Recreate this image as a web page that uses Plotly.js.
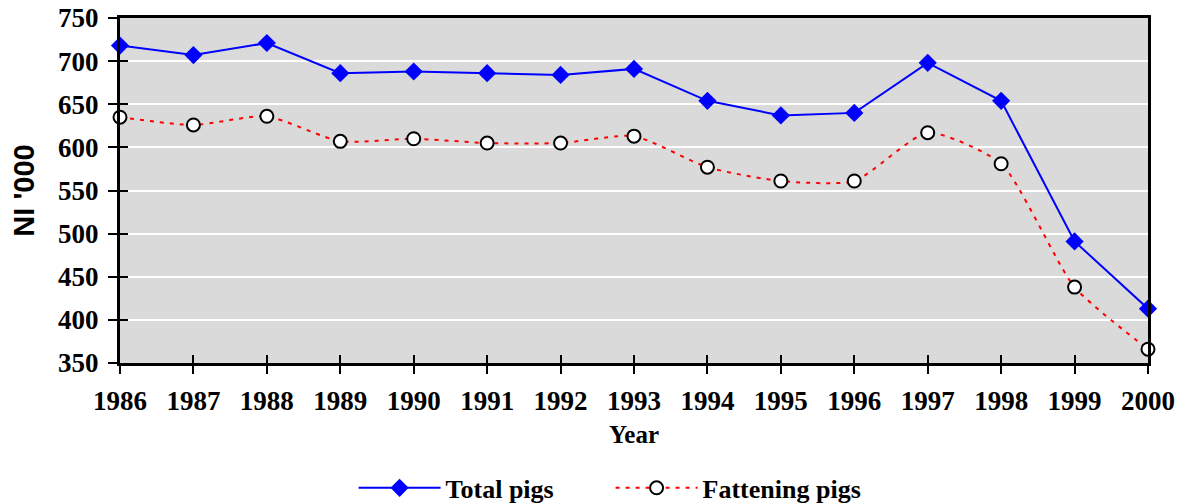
<!DOCTYPE html>
<html>
<head>
<meta charset="utf-8">
<script src="https://cdn.plot.ly/plotly-3.0.1.min.js"></script>
<style>html,body{margin:0;padding:0;background:#fff;}#chart{width:1181px;height:503px;}</style>
</head>
<body>
<div id="chart"></div>
<script>
const years = [1986,1987,1988,1989,1990,1991,1992,1993,1994,1995,1996,1997,1998,1999,2000];
const totalPigs = [718,707,721,686,688,686,684,691,654,637,640,698,654,491,413];
const fatteningPigs = [635,626,636,607,610,605,605,613,577,561,561,617,581,438,366];
const yTicks = [350,400,450,500,550,600,650,700,750];

const serif = 'Liberation Serif, Times New Roman, serif';
const tickFont = {family: serif, size: 27, color: '#000', weight: 'bold'};

const traces = [
  {
    x: years, y: totalPigs, name: 'Total pigs', type: 'scatter', mode: 'lines+markers',
    line: {color: '#0000ff', width: 2},
    marker: {symbol: 'diamond', size: 14, color: '#0000ff'},
    cliponaxis: false
  },
  {
    x: years, y: fatteningPigs, name: 'Fattening pigs', type: 'scatter', mode: 'lines+markers',
    line: {color: '#ff0000', width: 2, dash: '4px,6px', shape: 'spline', smoothing: 0.6},
    marker: {symbol: 'circle', size: 13, color: '#ffffff', line: {color: '#000', width: 2}},
    cliponaxis: false
  },
  {x: [years[0]], y: [yTicks[0]], xaxis: 'x2', yaxis: 'y2', showlegend: false, mode: 'markers', marker: {opacity: 0}, hoverinfo: 'skip'}
];

const layout = {
  width: 1181, height: 503,
  margin: {l: 120, r: 33, t: 18, b: 140, autoexpand: false},
  paper_bgcolor: '#ffffff',
  plot_bgcolor: '#dadada',
  showlegend: true,
  legend: {
    orientation: 'h', x: 0.517, xref: 'container', xanchor: 'center',
    y: 0.03, yref: 'container', yanchor: 'middle',
    font: {family: serif, size: 26, color: '#000', weight: 'bold'},
    itemwidth: 82, tracegroupgap: 0, entrywidth: 160, entrywidthmode: 'pixels'
  },
  xaxis: {
    range: [1986, 2000], tickvals: years, ticktext: years.map(String),
    ticks: 'outside', ticklen: 8, tickwidth: 2, tickcolor: '#000',
    showline: true, linecolor: '#000', linewidth: 3, mirror: true,
    showgrid: false, zeroline: false,
    tickfont: tickFont, ticklabelstandoff: 4,
    title: {text: 'Year', font: {family: serif, size: 25, color: '#000', weight: 'bold'}, standoff: 11}
  },
  yaxis: {
    range: [350, 750], tickvals: yTicks,
    ticks: 'outside', ticklen: 9, tickwidth: 2, tickcolor: '#000',
    showline: true, linecolor: '#000', linewidth: 3, mirror: true,
    showgrid: true, gridcolor: '#ffffff', gridwidth: 2, zeroline: false,
    tickfont: tickFont, ticklabelstandoff: 4,
    title: {text: "NI '000", font: {family: 'Liberation Sans, Arial, sans-serif', size: 29, color: '#000', weight: 'bold'}, standoff: 15}
  },
  xaxis2: {
    overlaying: 'x', matches: 'x', range: [1986, 2000], tickvals: years,
    ticks: 'inside', ticklen: 8, tickwidth: 2, tickcolor: '#000',
    showticklabels: false, showgrid: false, zeroline: false, showline: false
  },
  yaxis2: {
    overlaying: 'y', matches: 'y', range: [350, 750], tickvals: yTicks,
    ticks: 'inside', ticklen: 8, tickwidth: 2, tickcolor: '#000',
    showticklabels: false, showgrid: false, zeroline: false, showline: false
  }
};

Plotly.newPlot('chart', traces, layout, {displayModeBar: false, staticPlot: true});
</script>
</body>
</html>
